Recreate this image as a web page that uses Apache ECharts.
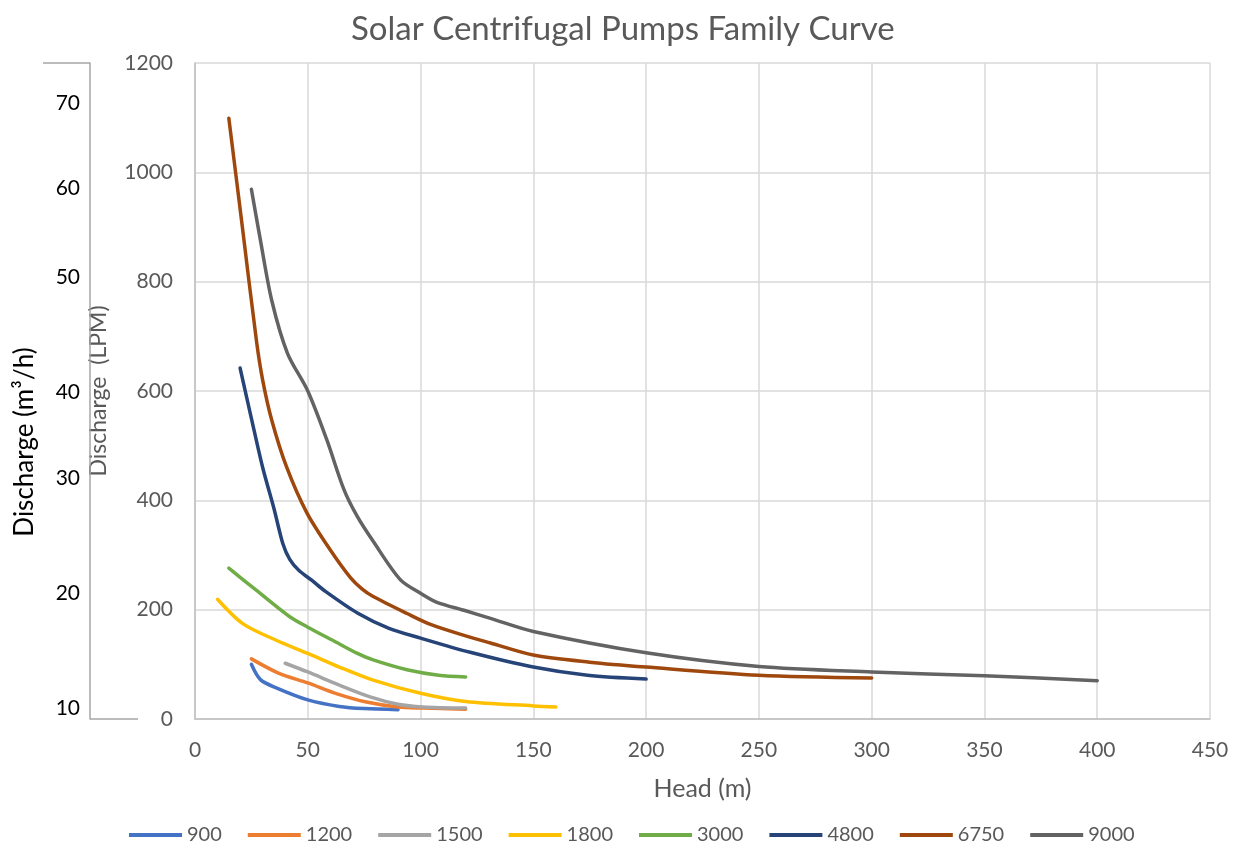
<!DOCTYPE html>
<html>
<head>
<meta charset="utf-8">
<script src="https://cdn.jsdelivr.net/npm/echarts@6/dist/echarts.min.js"></script>
<style>
html,body{margin:0;padding:0;background:#fff;}
#chart{width:1233px;height:845px;}
</style>
</head>
<body>
<div id="chart"></div>
<script>
// Series names (pump models)
const seriesNames = ['900', '1200', '1500', '1800', '3000', '4800', '6750', '9000'];
const seriesColors = ['#4472C4', '#ED7D31', '#A5A5A5', '#FFC000', '#70AD47', '#264478', '#9E480E', '#636363'];

// [Head (m), Discharge (LPM)]
const s900  = [[25,100],[29,72],[36,57],[50,35],[64,23],[75,19],[90,17]];
const s1200 = [[25,110],[37,84],[50,66],[63,46],[76,31],[90,22],[101,20],[120,18]];
const s1500 = [[40,102],[50,86],[64,62],[78,40],[90,27],[101,22],[120,20]];
const s1800 = [[10,219],[21,175],[36,144],[50,120],[64,95],[79,71],[100,47],[120,32],[150,24],[160,22]];
const s3000 = [[15,276],[27,236],[42,187],[50,168],[61,144],[72,120],[79,108],[94,90],[108,80],[120,77]];
const s4800 = [[20,642],[25,550],[30,460],[35,385],[39,320],[42,292],[46,272],[52,253],[57,236],[72,194],[86,166],[100,148],[122,122],[150,95],[174,80],[200,73]];
const s6750 = [[15,1099],[21,900],[27.3,690],[30,620],[34,547],[40.6,461],[49.6,377],[60,309],[69,258],[74,238],[79,224],[94,193],[105,172],[120,152],[131,139],[150,117],[175,104],[200,95],[250,80],[300,75]];
const s9000 = [[25,969],[29,876],[34,766],[41,669],[50,600],[58.5,510],[66,420],[72,370],[79,325],[91,255],[100,230],[107,214],[120,198],[131,184],[150,160],[200,121],[250,96],[300,86],[350,79],[400,70]];
const allSeries = [s900, s1200, s1500, s1800, s3000, s4800, s6750, s9000];

// Secondary (m3/h) axis labels, and the LPM value each sits at in the reference
const m3hLabels = ['70', '60', '50', '40', '30', '20', '10'];
const m3hTickAt = [1127, 971, 808, 598, 441, 230, 20];

const FONT = 'Lato, "Open Sans", sans-serif';
const chart = echarts.init(document.getElementById('chart'), null, {renderer: 'canvas'});

const option = {
  backgroundColor: '#ffffff',
  animation: false,
  title: {
    text: 'Solar Centrifugal Pumps Family Curve',
    left: 346,
    top: 8,
    textStyle: {fontFamily: FONT, fontSize: 33, fontWeight: 'normal', color: '#595959'}
  },
  legend: {
    data: seriesNames,
    top: 820,
    left: 124,
    icon: 'rect',
    itemWidth: 53,
    itemHeight: 4,
    itemGap: 26,
    textStyle: {fontFamily: FONT, fontSize: 20, color: '#595959'}
  },
  grid: {left: 195, right: 23, top: 63, bottom: 126, containLabel: false},
  xAxis: {
    type: 'value',
    min: 0, max: 450, interval: 50,
    name: 'Head (m)',
    nameLocation: 'middle',
    nameGap: 57,
    nameTextStyle: {fontFamily: FONT, fontSize: 25, color: '#595959'},
    axisLine: {show: true, lineStyle: {color: '#bfbfbf', width: 1.5}},
    axisTick: {show: false},
    axisLabel: {fontFamily: FONT, fontSize: 21, color: '#595959', margin: 21},
    splitLine: {show: true, lineStyle: {color: '#d9d9d9', width: 1.5}}
  },
  yAxis: [
    {
      type: 'value',
      min: 0, max: 1200, interval: 200,
      position: 'left',
      name: 'Discharge  (LPM)',
      nameLocation: 'middle',
      nameGap: 85,
      nameTextStyle: {fontFamily: FONT, fontSize: 23, color: '#595959'},
      axisLine: {show: true, lineStyle: {color: '#bfbfbf', width: 1.5}},
      axisTick: {show: false},
      axisLabel: {fontFamily: FONT, fontSize: 21, color: '#595959', margin: 22, formatter: function (v) { return String(v); }},
      splitLine: {show: true, lineStyle: {color: '#d9d9d9', width: 1.5}}
    },
    {
      type: 'value',
      min: 0, max: 1200,
      position: 'left',
      offset: 105,
      name: 'Discharge (m³/h)',
      nameLocation: 'middle',
      nameGap: 52,
      nameTextStyle: {fontFamily: FONT, fontSize: 26, color: '#000000', padding: [0, 102, 0, 0]},
      axisLine: {show: true, lineStyle: {color: '#a6a6a6', width: 1.5}},
      axisTick: {show: true, customValues: [1200], length: 47, lineStyle: {color: '#a6a6a6', width: 1.5}},
      axisLabel: {
        customValues: m3hTickAt,
        fontFamily: FONT, fontSize: 21, color: '#000000', margin: 10,
        formatter: function (v) {
          let best = 0, d = Infinity;
          m3hTickAt.forEach(function (t, i) { if (Math.abs(t - v) < d) { d = Math.abs(t - v); best = i; } });
          return m3hLabels[best];
        }
      },
      splitLine: {show: false}
    },
    {
      type: 'value',
      min: 0, max: 1200,
      position: 'left',
      offset: 105,
      axisLine: {show: false},
      axisTick: {show: true, inside: true, customValues: [0], length: 48, lineStyle: {color: '#a6a6a6', width: 1.5}},
      axisLabel: {show: false},
      splitLine: {show: false}
    }
  ],
  series: seriesNames.map(function (name, i) {
    return {
      name: name,
      type: 'line',
      yAxisIndex: 0,
      data: allSeries[i],
      smooth: 0.3,
      symbol: 'none',
      color: seriesColors[i],
      lineStyle: {width: 3.5, color: seriesColors[i], cap: 'round', join: 'round'}
    };
  })
};
chart.setOption(option);
</script>
</body>
</html>
